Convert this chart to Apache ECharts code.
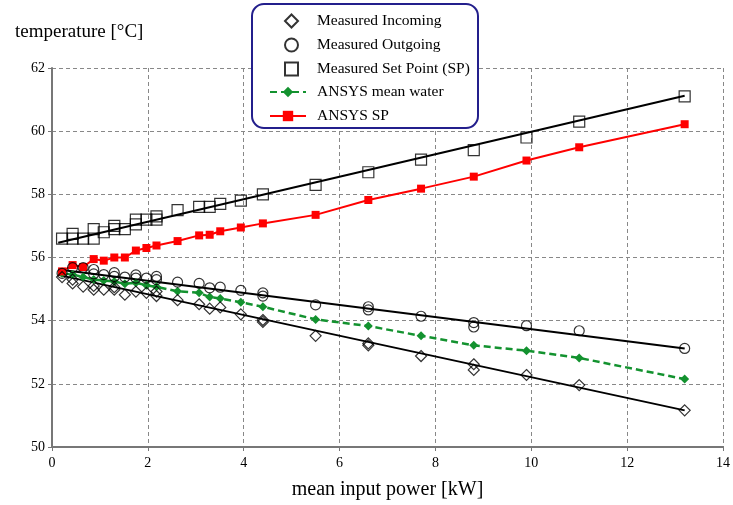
<!DOCTYPE html>
<html>
<head>
<meta charset="utf-8">
<script src="https://cdn.jsdelivr.net/npm/echarts@6/dist/echarts.min.js"></script>
<style>html,body{margin:0;padding:0;background:#fff}#c{width:733px;height:505px}</style>
</head>
<body>
<div id="c"></div>
<script>
// ---- data ----
const xTicks = [0, 2, 4, 6, 8, 10, 12, 14];
const yTicks = [50, 52, 54, 56, 58, 60, 62];

const measuredIncoming = [[0.21,55.38],[0.43,55.18],[0.43,55.3],[0.65,55.08],[0.87,54.98],[0.87,55.1],[1.08,54.98],[1.3,54.98],[1.3,55.06],[1.52,54.82],[1.75,54.92],[1.97,54.88],[2.18,54.78],[2.18,54.92],[2.62,54.65],[3.07,54.52],[3.29,54.38],[3.51,54.42],[3.94,54.2],[4.4,54.02],[4.4,53.96],[5.5,53.52],[6.6,53.28],[6.6,53.22],[7.7,52.88],[8.8,52.62],[8.8,52.44],[9.9,52.28],[11.0,51.96],[13.2,51.16]];
const measuredOutgoing = [[0.21,55.5],[0.43,55.68],[0.65,55.68],[0.87,55.62],[0.87,55.48],[1.08,55.46],[1.3,55.52],[1.3,55.4],[1.52,55.38],[1.75,55.45],[1.75,55.35],[1.97,55.35],[2.18,55.4],[2.18,55.3],[2.62,55.22],[3.07,55.18],[3.29,55.04],[3.51,55.06],[3.94,54.96],[4.4,54.88],[4.4,54.78],[5.5,54.5],[6.6,54.44],[6.6,54.34],[7.7,54.14],[8.8,53.94],[8.8,53.8],[9.9,53.84],[11.0,53.68],[13.2,53.12]];
const measuredSP = [[0.21,56.6],[0.43,56.75],[0.43,56.6],[0.65,56.6],[0.87,56.9],[0.87,56.6],[1.08,56.8],[1.3,57.0],[1.3,56.9],[1.52,56.9],[1.75,57.2],[1.75,57.05],[1.97,57.2],[2.18,57.3],[2.18,57.2],[2.62,57.5],[3.07,57.6],[3.29,57.6],[3.51,57.7],[3.94,57.8],[4.4,58.0],[5.5,58.3],[6.6,58.7],[7.7,59.1],[8.8,59.4],[9.9,59.8],[11.0,60.3],[13.2,61.1]];
const ansysMeanWater = [[0.21,55.5],[0.43,55.46],[0.65,55.38],[0.87,55.3],[1.08,55.27],[1.3,55.24],[1.52,55.17],[1.75,55.2],[1.97,55.12],[2.18,55.07],[2.62,54.93],[3.07,54.88],[3.29,54.75],[3.51,54.7],[3.94,54.58],[4.4,54.44],[5.5,54.04],[6.6,53.83],[7.7,53.52],[8.8,53.22],[9.9,53.05],[11.0,52.82],[13.2,52.15]];
const ansysSP = [[0.21,55.56],[0.43,55.76],[0.65,55.7],[0.87,55.95],[1.08,55.9],[1.3,56.0],[1.52,56.0],[1.75,56.22],[1.97,56.3],[2.18,56.38],[2.62,56.52],[3.07,56.7],[3.29,56.72],[3.51,56.83],[3.94,56.95],[4.4,57.08],[5.5,57.35],[6.6,57.82],[7.7,58.18],[8.8,58.56],[9.9,59.07],[11.0,59.49],[13.2,60.22]];
// linear trend lines (end points) for measured series
const trendIncoming = [[0.13,55.45],[13.2,51.16]];
const trendOutgoing = [[0.13,55.62],[13.2,53.12]];
const trendSP = [[0.13,56.47],[13.2,61.12]];

const markerLegend = ['Measured Incoming','Measured Outgoing','Measured Set Point (SP)'];
const lineLegend = ['ANSYS mean water','ANSYS SP'];

const FONT = '"Liberation Serif","Times New Roman",serif';
const chart = echarts.init(document.getElementById('c'), null, {renderer:'canvas'});

function trend(data){
  return {type:'line', data:data, symbol:'none', silent:true, z:2,
    lineStyle:{color:'#000', width:2}};
}
const hollow = {color:'rgba(255,255,255,0)', borderColor:'#000', borderWidth:1.2};
const legendText = {fontFamily:FONT, fontSize:15.5, color:'#000'};

chart.setOption({
  animation:false,
  backgroundColor:'#fff',
  title:{text:'temperature [°C]', left:10, top:18,
    textStyle:{fontFamily:FONT, fontSize:19, fontWeight:'normal', color:'#000'}},
  grid:{left:52, right:9, top:68, bottom:53},
  graphic:[{type:'rect', z:90, shape:{x:252, y:4, width:226, height:124, r:12},
    style:{fill:'#fff', stroke:'#231f8c', lineWidth:2}}],
  legend:[
    {data:markerLegend, orient:'vertical', left:284, top:13, padding:0,
     itemGap:8, itemWidth:13, itemHeight:13, z:100,
     textStyle:Object.assign({padding:[0,0,0,14]}, legendText)},
    {data:lineLegend, orient:'vertical', left:269, top:84, padding:0,
     itemGap:8, itemWidth:36, itemHeight:13, z:100,
     textStyle:Object.assign({padding:[0,0,0,6]}, legendText)}
  ],
  xAxis:{type:'value', min:xTicks[0], max:xTicks[xTicks.length-1], interval:2,
    name:'mean input power [kW]', nameLocation:'middle', nameGap:33,
    nameTextStyle:{fontFamily:FONT, fontSize:20, color:'#000'},
    axisLine:{show:true, onZero:false, lineStyle:{color:'#777', width:2}},
    axisTick:{show:true, length:4, lineStyle:{color:'#777'}},
    axisLabel:{fontFamily:FONT, fontSize:14, color:'#000', margin:9},
    splitLine:{show:true, lineStyle:{color:'#888', type:[4,3], width:1}}
  },
  yAxis:{type:'value', min:yTicks[0], max:yTicks[yTicks.length-1], interval:2,
    axisLine:{show:true, onZero:false, lineStyle:{color:'#777', width:2}},
    axisTick:{show:true, length:4, lineStyle:{color:'#777'}},
    axisLabel:{fontFamily:FONT, fontSize:14, color:'#000', margin:7},
    splitLine:{show:true, lineStyle:{color:'#888', type:[4,3], width:1}}
  },
  series:[
    trend(trendIncoming), trend(trendOutgoing), trend(trendSP),
    {name:'ANSYS mean water', type:'line', data:ansysMeanWater, z:4,
      symbol:'diamond', symbolSize:9, itemStyle:{color:'#13922f'},
      lineStyle:{color:'#13922f', width:2.5, type:[7,4]}},
    {name:'ANSYS SP', type:'line', data:ansysSP, z:4,
      symbol:'rect', symbolSize:8, itemStyle:{color:'#ff0000'},
      lineStyle:{color:'#ff0000', width:2}},
    {name:'Measured Incoming', type:'scatter', data:measuredIncoming, z:5,
      symbol:'diamond', symbolSize:11, itemStyle:hollow},
    {name:'Measured Outgoing', type:'scatter', data:measuredOutgoing, z:5,
      symbol:'circle', symbolSize:10, itemStyle:hollow},
    {name:'Measured Set Point (SP)', type:'scatter', data:measuredSP, z:5,
      symbol:'rect', symbolSize:11, itemStyle:hollow}
  ]
});
</script>
</body>
</html>
